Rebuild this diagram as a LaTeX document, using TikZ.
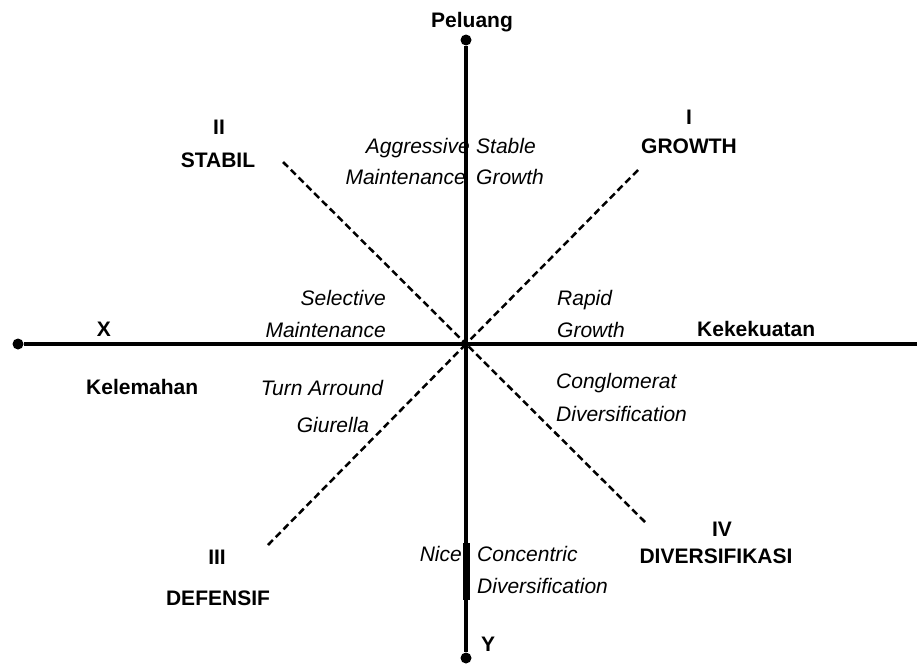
\documentclass[tikz,border=0pt]{standalone}
\usepackage{fontspec}
\setmainfont{Liberation Sans}
\begin{document}
\begin{tikzpicture}[x=1pt,y=-1pt,
  axis/.style={line width=4.5pt},
  diag/.style={line width=2.5pt, dash pattern=on 7pt off 4pt},
  dot/.style={circle, fill=black, inner sep=0pt, minimum size=11pt},
  lab/.style={font=\fontsize{21}{24}\selectfont\bfseries, inner sep=0pt},
  itl/.style={font=\fontsize{21}{24}\selectfont\itshape, inner sep=0pt}]
\useasboundingbox (0,0) rectangle (917,664);
% axis end points
\node[dot] (top) at (466,40) {};
\node[dot] (bot) at (466,658) {};
\node[dot] (left) at (18,344) {};
\coordinate (right) at (917,344);
\coordinate (o) at (466,344);
\coordinate (thA) at (466,543);
\coordinate (thB) at (466,600);
% diagonal ends
\coordinate (nw) at (283,162);
\coordinate (ne) at (638,170);
\coordinate (sw) at (268,545);
\coordinate (se) at (645,522);
% diagonals
\draw[diag] (nw) -- (o);
\draw[diag] (ne) -- (o);
\draw[diag] (sw) -- (o);
\draw[diag] (se) -- (o);
% axes
\draw[axis] (top) -- (bot);
\draw[axis] (left) -- (right);
\draw[line width=7pt] (thA) -- (thB);
% bold labels
\node[lab] (peluang) at (472,22) {Peluang};
\node[lab] (q2) at (219,127) {II};
\node[lab] (stabil) at (218,160) {STABIL};
\node[lab] (q1) at (689,117) {I};
\node[lab] (growth) at (689,146) {GROWTH};
\node[lab, anchor=mid] (xl) at (104,334) {X};
\node[lab, anchor=mid west] (kek) at (697,334) {Kekekuatan};
\node[lab, anchor=mid west] (kel) at (86,392) {Kelemahan};
\node[lab] (q3) at (217,557) {III};
\node[lab] (def) at (218,598) {DEFENSIF};
\node[lab] (q4) at (722,529) {IV};
\node[lab] (div) at (716,556) {DIVERSIFIKASI};
\node[lab] (yl) at (488,644) {Y};
% italic labels
\node[itl, anchor=mid east] (ag1) at (470,151) {Aggressive};
\node[itl, anchor=mid east] (ag2) at (466,182) {Maintenance};
\node[itl, anchor=mid west] (sg1) at (476,151) {Stable};
\node[itl, anchor=mid west] (sg2) at (476,182) {Growth};
\node[itl, anchor=mid east] (sm1) at (386,303) {Selective};
\node[itl, anchor=mid east] (sm2) at (386,335) {Maintenance};
\node[itl, anchor=mid west] (rg1) at (557,303) {Rapid};
\node[itl, anchor=mid west] (rg2) at (557,335) {Growth};
\node[itl, anchor=mid] (ta1) at (322,393) {Turn Arround};
\node[itl, anchor=mid] (ta2) at (333,430) {Giurella};
\node[itl, anchor=mid west] (cd1) at (556,386) {Conglomerat};
\node[itl, anchor=mid west] (cd2) at (556,419) {Diversification};
\node[itl, anchor=mid east] (nice) at (462,559) {Nice};
\node[itl, anchor=mid west] (cc1) at (477,559) {Concentric};
\node[itl, anchor=mid west] (cc2) at (477,591) {Diversification};
\end{tikzpicture}
\end{document}
